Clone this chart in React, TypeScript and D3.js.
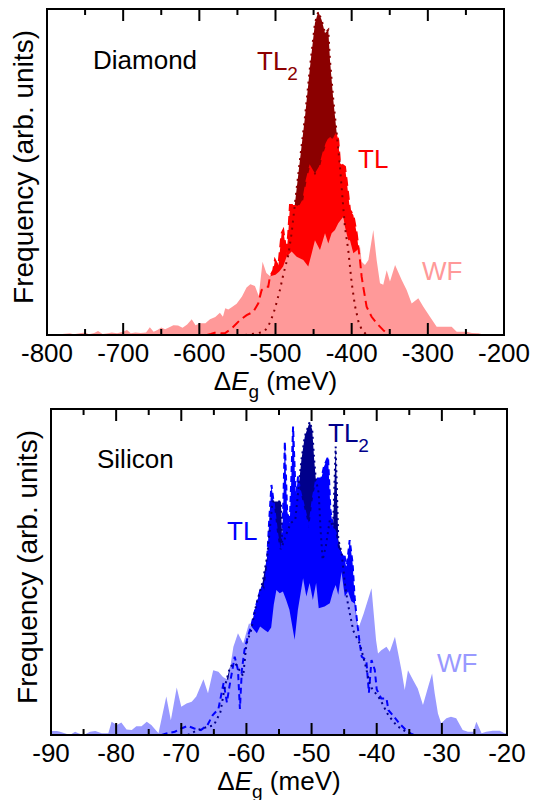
import React, { useEffect, useRef } from "react";
import * as d3 from "d3";

type Pt = [number, number];

// Diamond: [ΔEg (meV), frequency (arb.)]
const diamondWF: Pt[] = [
  [-800, 0], [-790, 0.3], [-780, 0.3], [-770, 0.5], [-765, 0.2], [-757, 0.5], [-750, 0.8],
  [-745, 0.2], [-738, 0.6], [-733, 1.2], [-727, 0.3], [-720, 0.5], [-715, 0.8], [-708, 0.5],
  [-700, 1.0], [-695, 1.5], [-690, 0.5], [-684, 0.8], [-677, 0.6], [-670, 0.8], [-665, 2.4],
  [-660, 1.0], [-655, 1.5], [-650, 2.3], [-645, 1.8], [-640, 2.3], [-634, 3.0], [-628, 2.9],
  [-622, 2.2], [-616, 3.2], [-610, 4.8], [-605, 3.0], [-599, 3.6], [-592, 3.6], [-586, 4.8],
  [-579, 5.5], [-573, 6.8], [-569, 5.6], [-566, 8.2], [-562, 7.8], [-558, 8.4], [-551, 9.6],
  [-544, 11.8], [-538, 14.6], [-533, 15.6], [-527, 15.0], [-522, 12], [-517, 22.5], [-512, 19],
  [-507, 18], [-500, 18.5], [-495, 19.5], [-490, 21], [-485.4, 24], [-478.8, 25.6], [-472.2, 24],
  [-463.5, 23], [-457, 21], [-452.5, 25], [-448.2, 29.1], [-441.6, 26.1], [-435, 31.2],
  [-430.7, 28.1], [-426.3, 31.2], [-421.9, 32.2], [-417.6, 34.3], [-411, 36.3], [-408.8, 33.2],
  [-404.5, 29.1], [-402.2, 29.1], [-397.8, 25.1], [-393, 26], [-389, 27], [-386.9, 22.5],
  [-382.5, 21.5], [-378, 23], [-371.6, 32.2], [-367.2, 23], [-362.8, 15.9], [-358.5, 15.4],
  [-354, 19.9], [-349.7, 16.4], [-343, 21.5], [-334.3, 16.9], [-327.8, 13.8], [-321.2, 9.7],
  [-312.5, 11.3], [-305.9, 8.7], [-297.2, 5.6], [-288.4, 2.5], [-280, 2.5], [-268.7, 2.5],
  [-262.1, 1.0], [-255, 1.0], [-249, 1.0], [-242, 0.6], [-233.8, 0.5], [-228, 0.2], [-220, 0],
  [-200, 0],
];

const diamondTL: Pt[] = [
  [-590, 0], [-585, 0.3], [-578, 0.8], [-572, 0.5], [-566, 0.6], [-557.6, 2], [-546.6, 4.6],
  [-537.9, 6.1], [-529.1, 7.1], [-522.6, 9.7], [-518.2, 13.8], [-512, 14.8], [-509.5, 14.8],
  [-507.3, 17.9], [-502.9, 19.9], [-500.7, 23], [-496.3, 21], [-492, 31.2], [-489.8, 32.2],
  [-485.4, 25], [-483.2, 31.3], [-481, 39.9], [-474.4, 39.9], [-467.9, 39.4], [-463.5, 41.4],
  [-459.1, 47.5], [-454.7, 51.6], [-448.2, 49], [-441.6, 51.6], [-437.3, 55.7], [-432.9, 58.8],
  [-428.5, 60.8], [-424.1, 59.8], [-419.7, 61.9], [-417.6, 59.8], [-415.3, 52.7], [-408.8, 51.6],
  [-406.6, 47.5], [-402.2, 38.3], [-397.8, 36.8], [-393.4, 31.2], [-391.3, 27.1], [-389.1, 23],
  [-386.9, 17.9], [-384.8, 14.8], [-380.4, 8.7], [-373.8, 5.6], [-367.2, 3.6], [-358.5, 1.5],
  [-354, 0.5], [-350, 0],
];

const diamondTL2: Pt[] = [
  [-540, 0], [-525, 0.5], [-515, 1], [-510, 2.5], [-507, 4], [-502.8, 6.5], [-498.5, 10],
  [-494, 14], [-489.8, 18.5], [-483.2, 24.5], [-478.8, 31.3], [-474.4, 40.5], [-467.9, 53.7],
  [-461.3, 66.9], [-454.7, 82.2], [-448.2, 95.7], [-443.8, 99.2], [-439.4, 96.6], [-435, 92.6],
  [-430.7, 93.6], [-428.5, 84.4], [-424.1, 72.1], [-419.7, 62], [-415.3, 51.5], [-411.8, 41.4],
  [-408.8, 33.1], [-404.5, 26.1], [-400, 16], [-395.7, 9], [-391, 4], [-386.5, 1.5],
  [-380, 0],
];

// Silicon
const siliconWF: Pt[] = [
  [-90, 1.2], [-89.1, 1.2], [-88.6, 1.0], [-87.9, 0.5], [-87.1, 0], [-86.3, 1.0], [-85.8, 0.5],
  [-85.0, 0], [-84.0, 1.0], [-83.2, 1.2], [-82.2, 0.5], [-81.2, 0.5], [-80.7, 4.1], [-79.9, 3.1],
  [-79.2, 3.8], [-78.4, 1.7], [-77.6, 1.5], [-76.9, 2.7], [-76.1, 2.7], [-75.3, 4.1], [-74.6, 3.1],
  [-73.5, 0.5], [-72.3, 11.8], [-71.6, 4.5], [-70.7, 14.6], [-70.0, 8.7], [-69.2, 9.7],
  [-68.4, 10.2], [-67.7, 11.8], [-66.6, 17.1], [-65.9, 12.8], [-65.1, 19.9], [-64.3, 19.4],
  [-63.6, 17.8], [-62.8, 16.9], [-62.0, 27.1], [-61.3, 31.2], [-60.5, 28.1], [-59.6, 34.3],
  [-59.0, 32.7], [-58.4, 31.2], [-57.9, 33.3], [-57.2, 32.2], [-56.7, 31.5], [-56.2, 33],
  [-55.8, 40], [-55.4, 44.5], [-54.9, 43.5], [-54.4, 44], [-53.9, 41.4], [-53.4, 38.4],
  [-52.6, 29.2], [-52.1, 38.4], [-51.3, 48.1], [-50.8, 42.5], [-50.3, 46.6], [-49.8, 41.4],
  [-49.3, 46.6], [-48.9, 38.9], [-48.0, 39.4], [-47.2, 40.4], [-46.7, 44], [-46.3, 46],
  [-45.9, 43], [-45.4, 50], [-44.9, 42.5], [-44.4, 44], [-43.9, 41], [-43.4, 40.3],
  [-42.9, 32.2], [-42.0, 37.3], [-40.8, 45], [-40.1, 29.1], [-39.8, 25], [-39.3, 26],
  [-38.5, 27.1], [-38.0, 25.5], [-37.2, 30.1], [-36.7, 25], [-36.2, 19.9], [-35.7, 13.8],
  [-35.2, 19.9], [-34.4, 16.8], [-33.7, 14.3], [-32.9, 9.2], [-32.1, 14.8], [-31.5, 18.9],
  [-31.1, 12.8], [-30.6, 6.6], [-30.1, 3.6], [-29.3, 5.1], [-28.6, 5.6], [-27.8, 5.1],
  [-26.8, 1.5], [-26.0, 1.0], [-25.2, 1.0], [-24.7, 4.1], [-23.9, 0.5], [-23.2, 1.0],
  [-22.2, 1.3], [-21.1, 1.3], [-20.4, 0.5], [-20, 0.5],
];

const siliconTL: Pt[] = [
  [-73, 0], [-72.3, 0.5], [-71, 1], [-70, 2], [-69, 2.8], [-68, 2], [-67, 1.5], [-66, 3],
  [-65.2, 6], [-64.3, 8], [-63.5, 16], [-63, 10], [-62.6, 15], [-61.8, 24], [-61.3, 20],
  [-61.0, 8], [-60.7, 20], [-60.3, 26], [-59.8, 30], [-59.2, 34], [-58.35, 40.9], [-57.7, 45.5],
  [-57.3, 44], [-56.9, 50.6], [-56.5, 66], [-56.16, 76.7], [-55.8, 71.1], [-55.3, 62],
  [-54.9, 57], [-54.6, 56.8], [-54.37, 69], [-54.1, 90], [-53.76, 69], [-53.35, 65],
  [-53.1, 79.3], [-52.84, 94.6], [-52.43, 73.1], [-52.07, 79.3], [-51.8, 75.2], [-51.05, 69],
  [-50.4, 63.4], [-49.77, 73.1], [-49.26, 78.7], [-48.5, 78.7], [-48.1, 82.3], [-47.47, 85.4],
  [-47.1, 69], [-46.7, 63.9], [-46.3, 62], [-45.9, 56.8], [-45.4, 55.8], [-44.9, 54.7],
  [-44.66, 50.6], [-44.15, 59.8], [-43.7, 52.7], [-43.4, 42.5], [-43.1, 36.3], [-42.6, 28],
  [-42.3, 24], [-41.6, 23], [-41.2, 13], [-40.8, 23], [-40.3, 20], [-40.0, 14], [-39.3, 11.2],
  [-38.5, 11.2], [-38.2, 7.6], [-37.5, 6], [-36.5, 3.5], [-35.5, 1.5], [-34.8, 0.5], [-34.3, 0],
];

const siliconTL2: Pt[] = [
  [-69, 0], [-67.5, 1.5], [-66, 2.5], [-65, 3], [-64, 7], [-63.3, 15], [-62.5, 21], [-61.7, 22],
  [-60.5, 18], [-60.0, 28], [-59.3, 32], [-58.5, 40], [-57.5, 47], [-56.8, 55], [-56.0, 71.6],
  [-54.7, 71.6], [-54.5, 58], [-53.8, 62], [-53.2, 65], [-52.5, 66], [-52.07, 74.2],
  [-51.56, 84.4], [-51.05, 91.5], [-50.7, 93.6], [-50.28, 96.1], [-49.9, 93.6], [-49.6, 84.4],
  [-49.36, 78.7], [-48.9, 74.2], [-48.65, 64], [-48.3, 53.7], [-47.8, 58], [-47.2, 66],
  [-46.7, 63.9], [-46.3, 88.5], [-45.9, 60], [-45.4, 56], [-44.8, 45], [-44.4, 40], [-43.6, 32],
  [-42.6, 28], [-41.8, 22], [-41.0, 15], [-39.5, 11], [-38.2, 6], [-36.9, 2.8], [-35.5, 1],
  [-34.5, 0],
];

const diamondTicks = [-800, -750, -700, -650, -600, -550, -500, -450, -400, -350, -300, -250, -200];
const diamondLabels = [-800, -700, -600, -500, -400, -300, -200];
const siliconTicks = [-90, -85, -80, -75, -70, -65, -60, -55, -50, -45, -40, -35, -30, -25, -20];
const siliconLabels = [-90, -80, -70, -60, -50, -40, -30, -20];

const FONT = "'Liberation Sans', Arial, Helvetica, sans-serif";

interface PanelCfg {
  left: number;
  top: number;
  width: number;
  height: number;
  domain: [number, number];
  wf: Pt[];
  tl: Pt[];
  tl2: Pt[];
  ticks: number[];
  labels: number[];
  colors: { wf: string; tl: string; tl2: string };
  dash: string;
  dot: string;
  name: string;
  namePos: [number, number];
  tl2Pos: [number, number];
  tlPos: [number, number];
  wfPos: [number, number];
}

const panels: PanelCfg[] = [
  {
    left: 47, top: 9, width: 457, height: 326,
    domain: [-800, -200],
    wf: diamondWF, tl: diamondTL, tl2: diamondTL2,
    ticks: diamondTicks, labels: diamondLabels,
    colors: { wf: "#ff9999", tl: "#ff0000", tl2: "#8b0000" },
    dash: "9,5", dot: "2,5",
    name: "Diamond",
    namePos: [46, 60], tl2Pos: [210, 61], tlPos: [311, 159], wfPos: [375, 271],
  },
  {
    left: 51, top: 409, width: 456, height: 326,
    domain: [-90, -20],
    wf: siliconWF, tl: siliconTL, tl2: siliconTL2,
    ticks: siliconTicks, labels: siliconLabels,
    colors: { wf: "#9999ff", tl: "#0000ff", tl2: "#00008b" },
    dash: "6,4", dot: "2,4",
    name: "Silicon",
    namePos: [46, 59], tl2Pos: [277, 33], tlPos: [176, 131], wfPos: [386, 263],
  },
];

const drawPanel = (root: d3.Selection<SVGSVGElement, unknown, null, undefined>, p: PanelCfg) => {
  const g = root.append("g").attr("transform", `translate(${p.left},${p.top})`);
  const x = d3.scaleLinear().domain(p.domain).range([0, p.width]);
  const y = d3.scaleLinear().domain([0, 100]).range([p.height, 0]);

  const area = d3.area<Pt>().x((d) => x(d[0])).y0(y(0)).y1((d) => y(d[1]));
  const line = d3.line<Pt>().x((d) => x(d[0])).y((d) => y(d[1]));

  // filled histograms: darkest first, WF on top
  g.append("path").datum(p.tl2).attr("d", area).attr("fill", p.colors.tl2);
  g.append("path").datum(p.tl).attr("d", area).attr("fill", p.colors.tl);
  g.append("path").datum(p.wf).attr("d", area).attr("fill", p.colors.wf);

  // outlines of the hidden parts
  g.append("path").datum(p.tl).attr("d", line)
    .attr("fill", "none").attr("stroke", p.colors.tl)
    .attr("stroke-width", 2).attr("stroke-dasharray", p.dash);
  g.append("path").datum(p.tl2).attr("d", line)
    .attr("fill", "none").attr("stroke", p.colors.tl2)
    .attr("stroke-width", 2).attr("stroke-dasharray", p.dot);

  // frame
  g.append("rect")
    .attr("width", p.width).attr("height", p.height)
    .attr("fill", "none").attr("stroke", "#000").attr("stroke-width", 2);

  const isMajor = (t: number) => p.labels.includes(t);
  const tickLen = (t: number) => (isMajor(t) ? 12 : 6);

  g.selectAll(".tick-b").data(p.ticks).enter().append("line")
    .attr("x1", (d) => x(d)).attr("x2", (d) => x(d))
    .attr("y1", p.height).attr("y2", (d) => p.height - tickLen(d))
    .attr("stroke", "#000").attr("stroke-width", 2);
  g.selectAll(".tick-t").data(p.ticks).enter().append("line")
    .attr("x1", (d) => x(d)).attr("x2", (d) => x(d))
    .attr("y1", 0).attr("y2", (d) => tickLen(d))
    .attr("stroke", "#000").attr("stroke-width", 2);

  g.selectAll(".tlabel").data(p.labels).enter().append("text")
    .attr("x", (d) => x(d)).attr("y", p.height + 27)
    .attr("text-anchor", "middle")
    .attr("font-family", FONT).attr("font-size", 26)
    .text((d) => String(d));

  // x-axis title
  const xt = g.append("text")
    .attr("x", p.width / 2).attr("y", p.height + 55)
    .attr("text-anchor", "middle")
    .attr("font-family", FONT).attr("font-size", 26);
  xt.append("tspan").text("Δ");
  xt.append("tspan").attr("font-style", "italic").text("E");
  xt.append("tspan").attr("dy", 8).attr("font-size", 19).text("g");
  xt.append("tspan").attr("dy", -8).text(" (meV)");

  // y-axis title
  g.append("text")
    .attr("transform", `translate(${-14},${p.height / 2 - 5}) rotate(-90)`)
    .attr("text-anchor", "middle")
    .attr("font-family", FONT).attr("font-size", 28)
    .text("Frequency (arb. units)");

  // annotations
  g.append("text")
    .attr("x", p.namePos[0]).attr("y", p.namePos[1])
    .attr("font-family", FONT).attr("font-size", 26).attr("fill", "#000")
    .text(p.name);

  const t2 = g.append("text")
    .attr("x", p.tl2Pos[0]).attr("y", p.tl2Pos[1])
    .attr("font-family", FONT).attr("font-size", 26).attr("fill", p.colors.tl2);
  t2.append("tspan").text("TL");
  t2.append("tspan").attr("dy", 10).attr("font-size", 19).text("2");

  g.append("text")
    .attr("x", p.tlPos[0]).attr("y", p.tlPos[1])
    .attr("font-family", FONT).attr("font-size", 26).attr("fill", p.colors.tl)
    .text("TL");

  g.append("text")
    .attr("x", p.wfPos[0]).attr("y", p.wfPos[1])
    .attr("font-family", FONT).attr("font-size", 26).attr("fill", p.colors.wf)
    .text("WF");
};

const App = () => {
  const svgRef = useRef<SVGSVGElement>(null);

  useEffect(() => {
    const svg = d3.select(svgRef.current as SVGSVGElement);
    svg.selectAll("*").remove();
    panels.forEach((p) => drawPanel(svg, p));
  }, []);

  return (
    <div style={{ position: "absolute", left: 0, top: 0 }}>
      <svg ref={svgRef} width={538} height={800} style={{ display: "block", background: "#fff" }} />
    </div>
  );
};

export default App;
